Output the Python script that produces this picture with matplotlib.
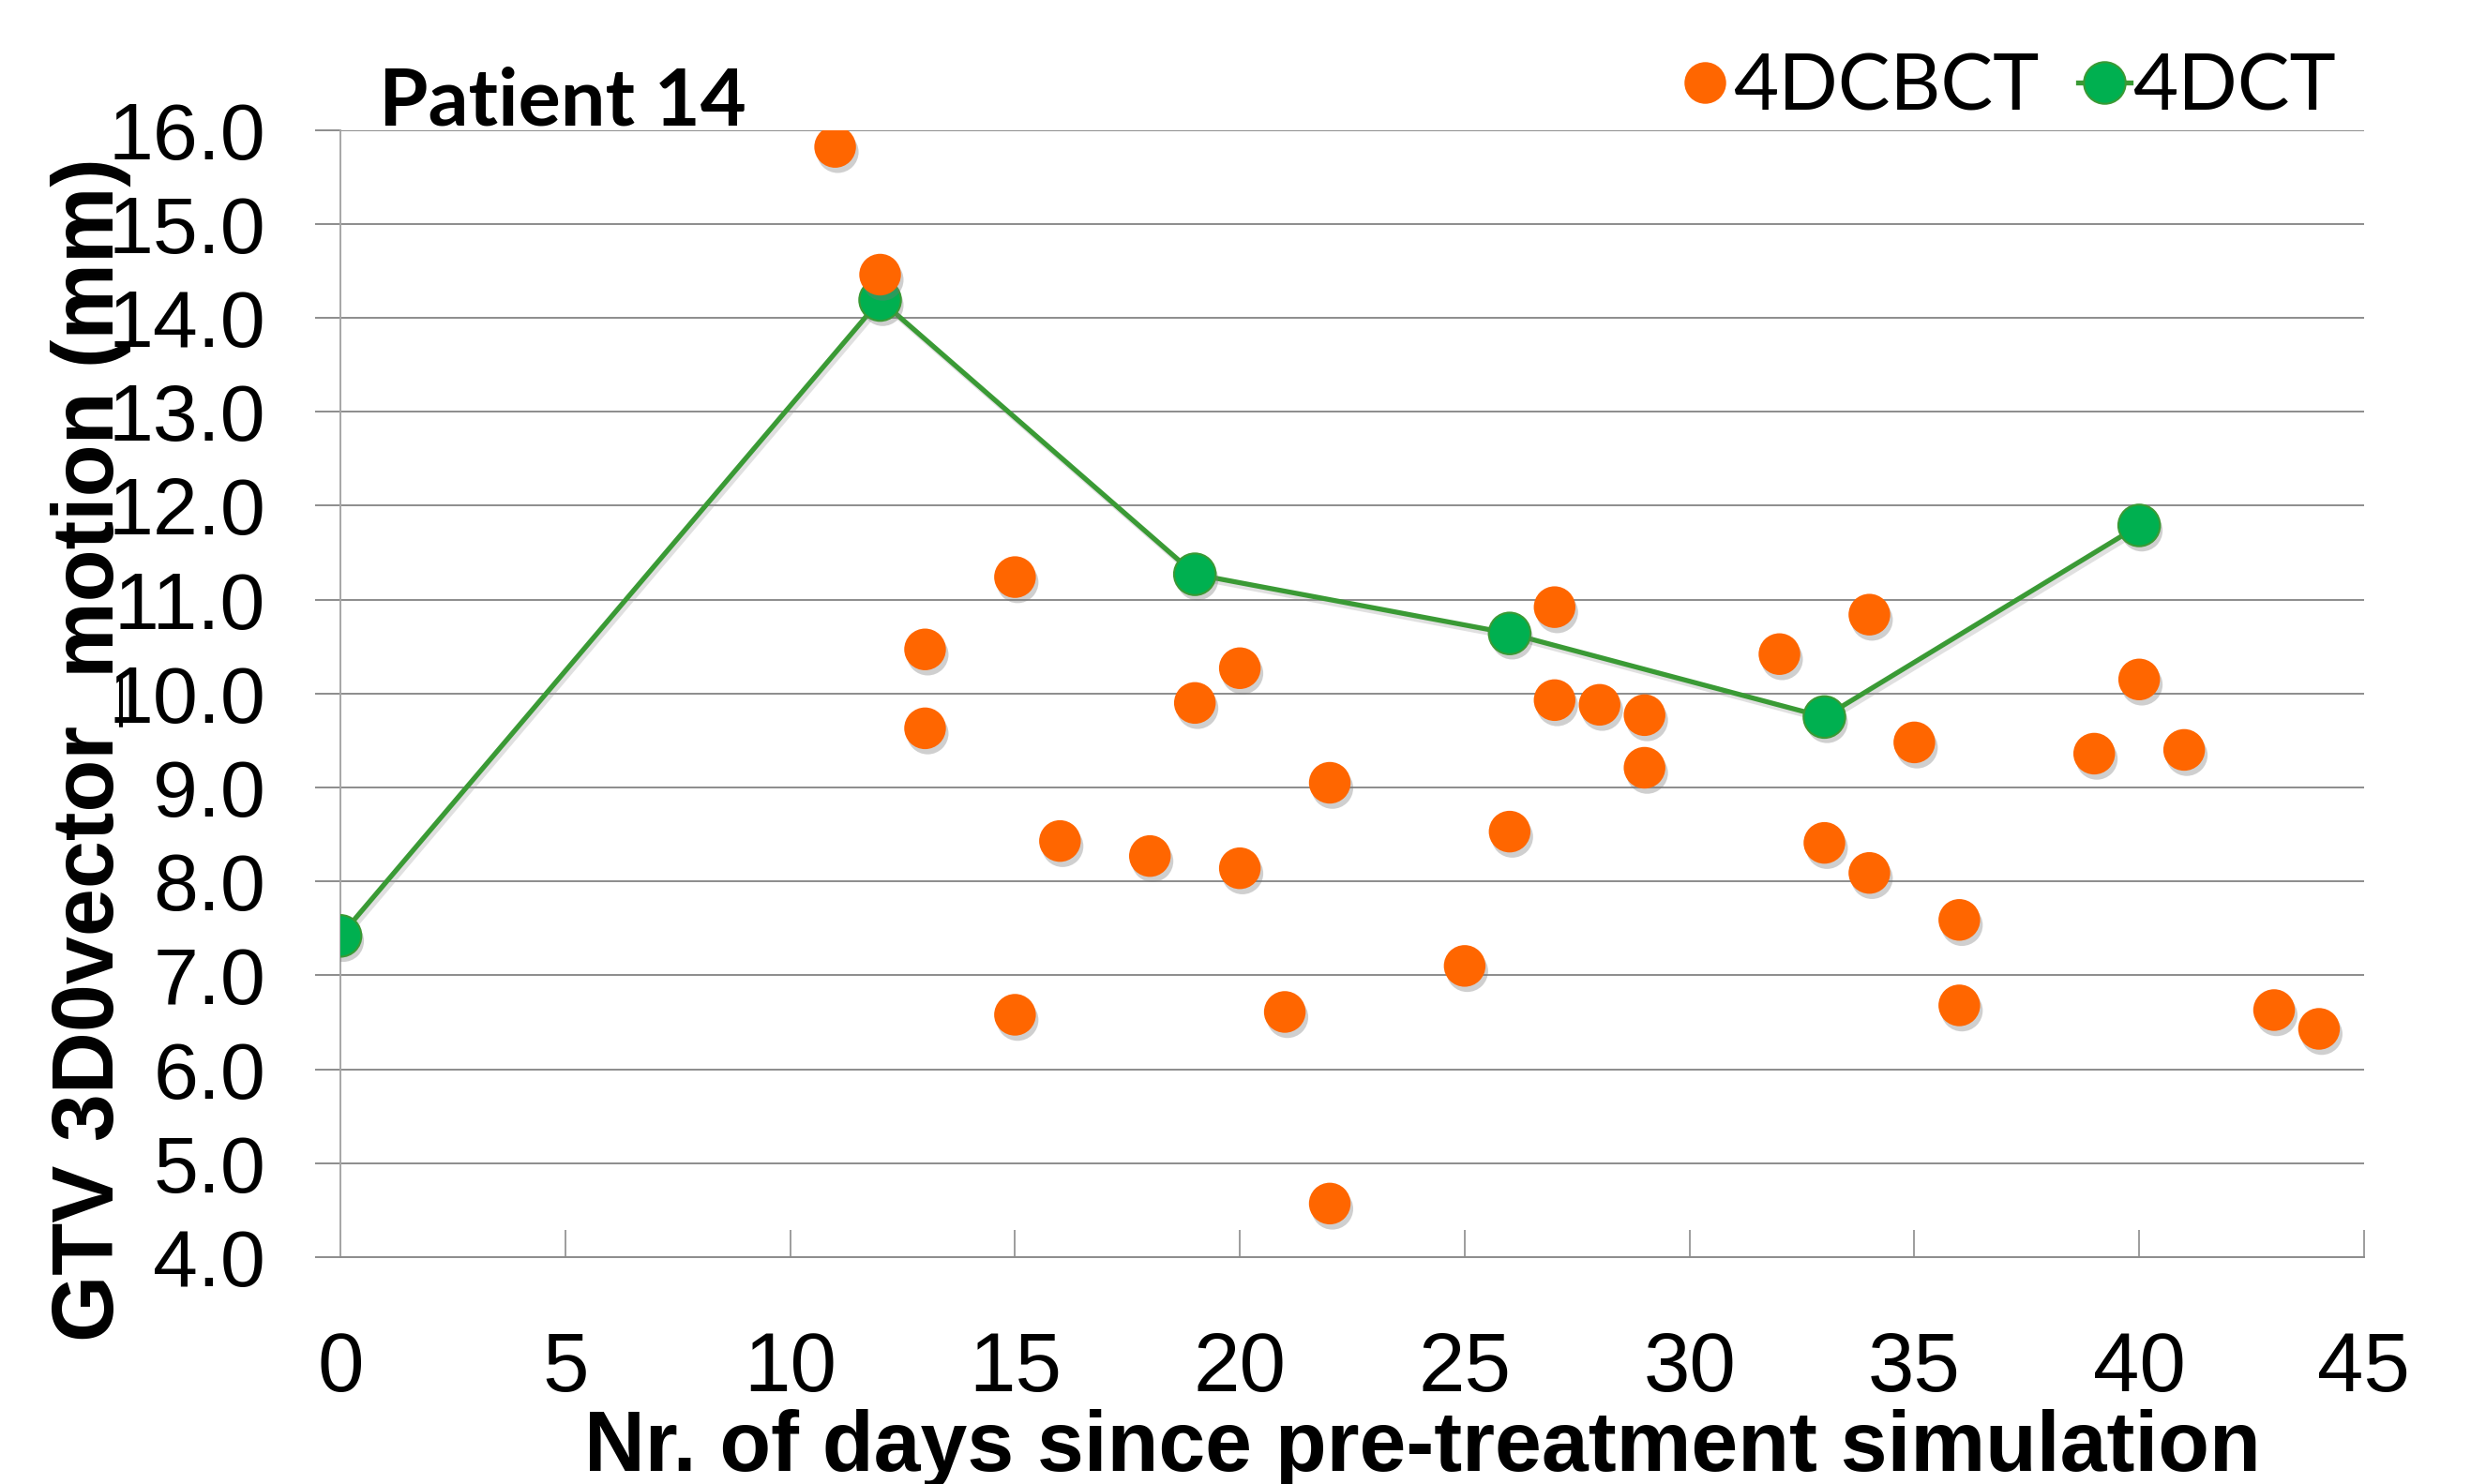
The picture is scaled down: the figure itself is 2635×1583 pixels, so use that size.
import matplotlib
matplotlib.use('Agg')
import matplotlib.pyplot as plt
import matplotlib.patheffects as pe
from matplotlib.lines import Line2D

# 4DCT (planning scans) - connected
ct_days = [0, 12, 19, 26, 33, 40]
ct_motion = [7.42, 14.19, 11.27, 10.64, 9.75, 11.79]

# 4DCBCT (daily scans)
cbct_days = [11, 12, 13, 13, 15, 15, 16, 18, 19, 20, 20, 21, 22, 22, 25, 26, 27,
             27, 28, 29, 29, 32, 33, 34, 34, 35, 36, 36, 39, 40, 41, 43, 44]
cbct_motion = [15.82, 14.46, 10.47, 9.63, 11.24, 6.58, 8.43, 8.27, 9.90, 10.27,
               8.14, 6.61, 9.05, 4.57, 7.10, 8.53, 10.92, 9.93, 9.88, 9.77, 9.21,
               10.42, 8.41, 10.84, 8.09, 9.48, 7.59, 6.68, 9.36, 10.15, 9.40,
               6.63, 6.43]

x_ticks = [0, 5, 10, 15, 20, 25, 30, 35, 40, 45]
y_ticks = [4, 5, 6, 7, 8, 9, 10, 11, 12, 13, 14, 15, 16]

orange = '#FF6600'
green_fill = '#00B050'
green_line = '#3A9A35'
grid_col = '#8C8C8C'

marker_shadow = [pe.SimplePatchShadow(offset=(2, -4), shadow_rgbFace='#777777', alpha=0.35),
                 pe.Normal()]
line_shadow = [pe.SimpleLineShadow(offset=(2, -3), shadow_color='#999999', alpha=0.3),
               pe.Normal()]

fig = plt.figure(figsize=(26.35, 15.83), dpi=100)
ax = fig.add_axes([0.1378, 0.1529, 0.8189, 0.7595])

# green line first, then its markers, orange on top
ax.plot(ct_days, ct_motion, color=green_line, lw=3.8, path_effects=line_shadow, zorder=3)
ax.plot(ct_days, ct_motion, linestyle='none', marker='o', markersize=32,
        markerfacecolor=green_fill, markeredgecolor=green_line, markeredgewidth=1.5,
        path_effects=marker_shadow, zorder=3.5)
ax.plot(cbct_days, cbct_motion, linestyle='none', marker='o', markersize=32,
        markerfacecolor=orange, markeredgewidth=0, path_effects=marker_shadow, zorder=4)

ax.set_xlim(0, 45)
ax.set_ylim(4, 16)
ax.set_xticks(x_ticks)
ax.set_yticks(y_ticks)
ax.set_yticklabels(['%.1f' % v for v in y_ticks])

ax.yaxis.grid(True, color=grid_col, lw=1.4)
ax.set_axisbelow(True)
for s in ['top', 'right']:
    ax.spines[s].set_visible(False)
ax.spines['left'].set_color('#A6A6A6')
ax.spines['left'].set_linewidth(1.4)
ax.spines['bottom'].set_color(grid_col)
ax.spines['bottom'].set_linewidth(1.4)

ax.tick_params(axis='x', direction='in', length=21, width=1.2, color=grid_col,
               pad=56, labelsize=64)
ax.tick_params(axis='y', direction='out', length=19.5, width=1.4, color=grid_col,
               pad=38, labelsize=62)
for lab in ax.get_xticklabels() + ax.get_yticklabels():
    lab.set_fontfamily('Liberation Sans')

fig.text(0.037, 0.4946, 'GTV 3D0vector_motion (mm)', rotation=90, ha='center',
         va='center', fontsize=66, fontweight='bold', family='Liberation Sans')
fig.text(0.5755, 0.009, 'Nr. of days since pre-treatment simulation', ha='center',
         va='baseline', fontsize=64.5, fontweight='bold', family='Liberation Sans')
fig.text(0.1533, 1 - 133 / 1583, 'Patient 14', ha='left', va='baseline',
         fontsize=61, fontweight='bold', family='Lato')

handles = [Line2D([], [], linestyle='none', marker='o', markersize=32,
                  markerfacecolor=orange, markeredgewidth=0),
           Line2D([], [], color=green_line, lw=3.8, marker='o', markersize=32,
                  markerfacecolor=green_fill, markeredgecolor=green_line,
                  markeredgewidth=1.5)]
leg = fig.legend(handles, ['4DCBCT', '4DCT'], loc='center right',
                 bbox_to_anchor=(0.9453, 0.9406), ncol=2, frameon=False,
                 handlelength=0.68, handletextpad=0.02, columnspacing=0.5,
                 borderpad=0, borderaxespad=0, prop={'family': 'Lato', 'size': 60})

fig.savefig('out.png', dpi=100)
